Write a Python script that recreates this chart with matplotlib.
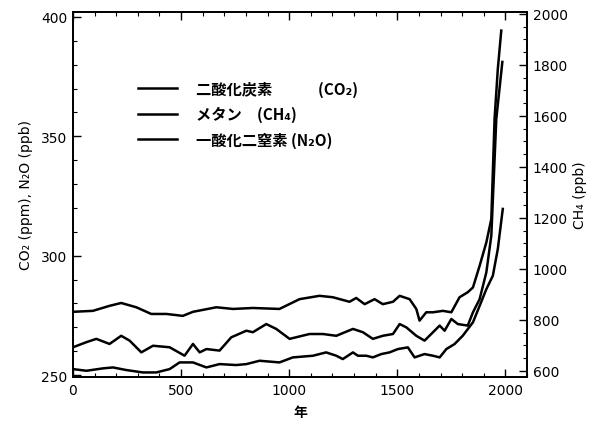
import matplotlib
matplotlib.use("Agg")
import matplotlib.pyplot as plt
from matplotlib.ticker import MultipleLocator

plt.rcParams['font.family'] = ['DejaVu Sans', 'Noto Sans CJK JP']

# CO2 (ppm), left axis
co2_year = [0, 92, 169, 223, 293, 362, 432, 508, 555, 663, 740, 832, 955, 1048,
            1140, 1202, 1279, 1310, 1349, 1395, 1433, 1480, 1511, 1557, 1588, 1603,
            1634, 1665, 1711, 1750, 1788, 1826, 1850, 1881, 1912, 1935, 1950, 1965, 1981]
co2_ppm = [276.5, 276.9, 279.0, 280.2, 278.4, 275.6, 275.6, 274.8, 276.5, 278.4,
           277.7, 278.1, 277.7, 281.8, 283.2, 282.6, 280.7, 282.3, 279.7, 281.8,
           279.7, 280.7, 283.2, 281.8, 277.7, 272.8, 276.3, 276.3, 276.9, 276.3,
           282.6, 284.7, 286.7, 295.8, 305.6, 315.4, 357.3, 378.2, 394.3]

# CH4 (ppb), right axis
ch4_year = [0, 62, 108, 169, 223, 262, 316, 370, 447, 516, 555, 586, 617, 678, 732,
            802, 832, 894, 940, 1002, 1094, 1156, 1218, 1295, 1341, 1387, 1433, 1480,
            1511, 1542, 1588, 1626, 1657, 1696, 1719, 1750, 1780, 1826, 1850, 1881,
            1912, 1935, 1958, 1986]
ch4_ppb = [693, 713, 726, 706, 738, 719, 673, 699, 693, 660, 706, 673, 686, 680, 732,
           758, 752, 784, 765, 726, 745, 745, 738, 765, 752, 726, 738, 745,
           784, 771, 738, 719, 745, 778, 758, 804, 784, 778, 830, 882,
           987, 1131, 1588, 1812]

# N2O (ppb), left axis
n2o_year = [0, 62, 138, 185, 247, 323, 385, 447, 493, 555, 617, 678, 755, 802, 863,
            955, 1017, 1110, 1171, 1218, 1248, 1295, 1318, 1357, 1387, 1426, 1464,
            1503, 1549, 1580, 1626, 1665, 1696, 1727, 1765, 1803, 1850, 1881, 1912,
            1942, 1965, 1988]
n2o_ppb = [252.5, 251.8, 252.8, 253.2, 252.1, 251.1, 251.1, 252.5, 255.3, 255.3,
           253.2, 254.6, 254.2, 254.6, 256.0, 255.3, 257.4, 258.1, 259.5, 258.1,
           256.7, 259.5, 258.1, 258.1, 257.4, 258.8, 259.5, 260.9, 261.6, 257.4,
           258.8, 258.1, 257.4, 260.9, 263.0, 266.5, 272.1, 279.0, 286.0, 291.6,
           302.8, 319.6]

labels = ["二酸化炭素　　　(CO₂)", "メタン　(CH₄)", "一酸化二窒素 (N₂O)"]

fig = plt.figure(figsize=(5.91, 4.27), dpi=100)
ax = fig.add_axes([0.1235, 0.1148, 0.7682, 0.8548])
ax2 = ax.twinx()

lw = 1.8
l1, = ax.plot(co2_year, co2_ppm, color="black", lw=lw)
l3, = ax.plot(n2o_year, n2o_ppb, color="black", lw=lw)
l2, = ax2.plot(ch4_year, ch4_ppb, color="black", lw=lw)

ax.set_xlim(0, 2100)
ax.set_ylim(249.2, 402.1)
ax2.set_ylim(576.5, 2007.8)

ax.xaxis.set_major_locator(MultipleLocator(500))
ax.xaxis.set_minor_locator(MultipleLocator(100))
ax.yaxis.set_major_locator(MultipleLocator(50))
ax.yaxis.set_minor_locator(MultipleLocator(10))
ax2.yaxis.set_major_locator(MultipleLocator(200))
ax2.yaxis.set_minor_locator(MultipleLocator(50))

ax.tick_params(which="both", direction="in", top=True, right=False, labelsize=10, pad=4)
ax.tick_params(which="major", length=6, width=1)
ax.tick_params(which="minor", length=3, width=0.8)
ax2.tick_params(which="both", direction="in", labelsize=10, pad=4)
ax2.tick_params(which="major", length=6, width=1)
ax2.tick_params(which="minor", length=3, width=0.8)
for a in (ax, ax2):
    for s in a.spines.values():
        s.set_linewidth(1.3)

cjk = ['Noto Sans CJK JP', 'DejaVu Sans']
ax.set_ylabel("CO₂ (ppm), N₂O (ppb)", fontsize=10, labelpad=6)
ax2.set_ylabel("CH₄ (ppb)", fontsize=10, labelpad=4)
ax.set_xlabel("年", fontsize=10, family=cjk, fontweight="bold", labelpad=6)

leg = ax.legend([l1, l2, l3], labels, loc="upper left",
                bbox_to_anchor=(0.112, 0.85), frameon=False,
                handlelength=2.6, handletextpad=1.2, labelspacing=0.6,
                prop={'family': cjk, 'weight': 'bold', 'size': 11})

fig.savefig("out.png", dpi=100)
